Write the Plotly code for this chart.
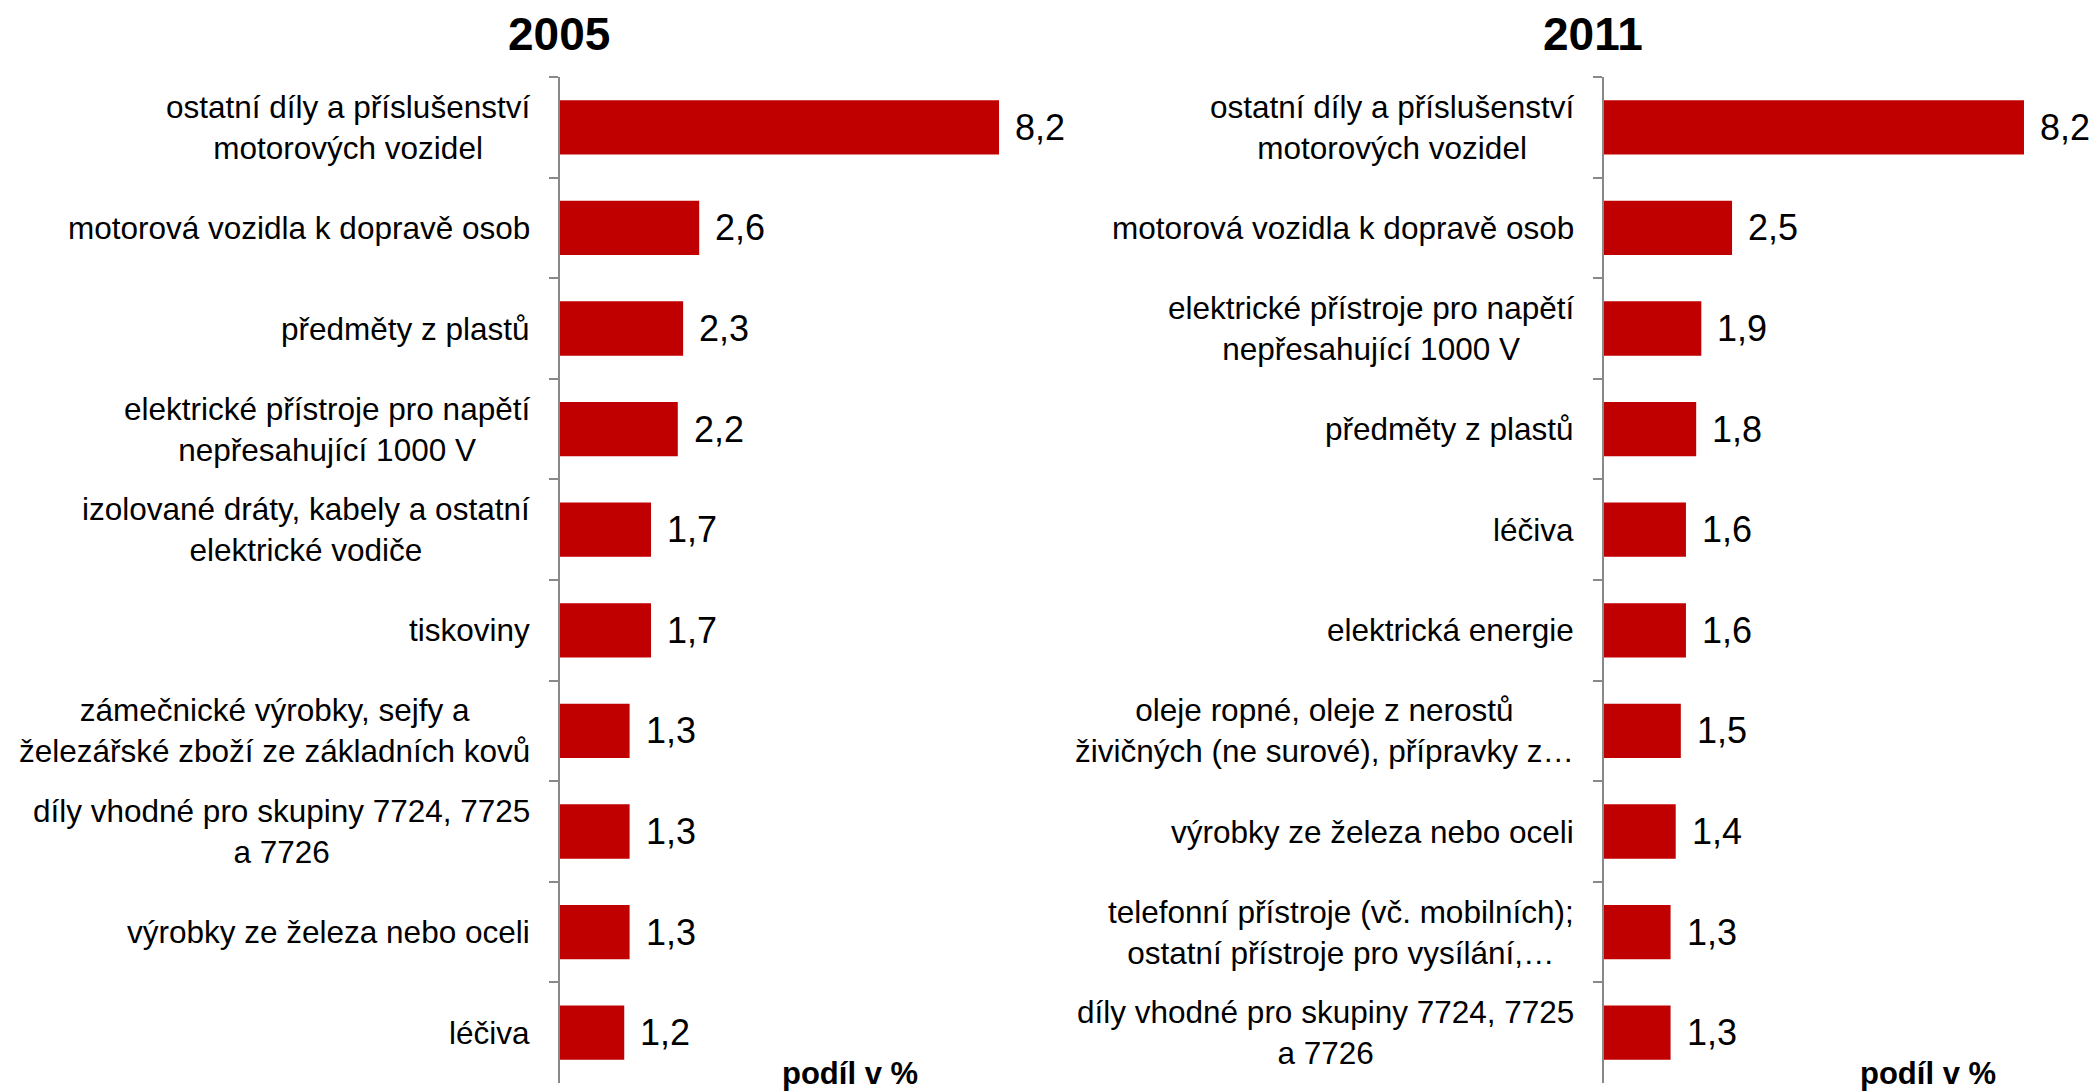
import plotly.graph_objects as go

# data (share in %)
cats_2005 = [
    "ostatní díly a příslušenství<br>motorových vozidel",
    "motorová vozidla k dopravě osob",
    "předměty z plastů",
    "elektrické přístroje pro napětí<br>nepřesahující 1000 V",
    "izolované dráty, kabely a ostatní<br>elektrické vodiče",
    "tiskoviny",
    "zámečnické výrobky, sejfy a<br>železářské zboží ze základních kovů",
    "díly vhodné pro skupiny 7724, 7725<br>a 7726",
    "výrobky ze železa nebo oceli",
    "léčiva",
]
vals_2005 = [8.2, 2.6, 2.3, 2.2, 1.7, 1.7, 1.3, 1.3, 1.3, 1.2]

cats_2011 = [
    "ostatní díly a příslušenství<br>motorových vozidel",
    "motorová vozidla k dopravě osob",
    "elektrické přístroje pro napětí<br>nepřesahující 1000 V",
    "předměty z plastů",
    "léčiva",
    "elektrická energie",
    "oleje ropné, oleje z nerostů<br>živičných (ne surové), přípravky z…",
    "výrobky ze železa nebo oceli",
    "telefonní přístroje (vč. mobilních);<br>ostatní přístroje pro vysílání,…",
    "díly vhodné pro skupiny 7724, 7725<br>a 7726",
]
vals_2011 = [8.2, 2.5, 1.9, 1.8, 1.6, 1.6, 1.5, 1.4, 1.3, 1.3]

titles = ["2005", "2011"]
axis_title = "podíl v %"

W, H = 2096, 1091
FONT = "Liberation Sans, Arial, sans-serif"
RED = "#C00000"
GREY = "#898989"

fig = go.Figure()

panels = [
    (cats_2005, vals_2005, "x", "y"),
    (cats_2011, vals_2011, "x2", "y2"),
]

annotations = []
for cats, vals, xa, ya in panels:
    fig.add_trace(go.Bar(
        x=vals, y=cats, orientation="h", xaxis=xa, yaxis=ya,
        marker=dict(color=RED, line=dict(width=0)), width=0.54,
        hoverinfo="x+y", showlegend=False,
    ))
    for c, v in zip(cats, vals):
        # category label, lines centred like the original
        annotations.append(dict(
            x=0, y=c, xref=xa, yref=ya, text=c, showarrow=False,
            xanchor="right", yanchor="middle", align="center", xshift=-28,
            font=dict(family=FONT, size=31.5, color="black"),
        ))
        # value label
        annotations.append(dict(
            x=v, y=c, xref=xa, yref=ya, text=f"{v:.1f}".replace(".", ","),
            showarrow=False, xanchor="left", yanchor="middle", xshift=14,
            font=dict(family=FONT, size=36, color="black"),
        ))

# panel titles and axis titles
for t, px in zip(titles, [559, 1593]):
    annotations.append(dict(
        x=px / W, y=1 - 34 / H, xref="paper", yref="paper", text=f"<b>{t}</b>",
        showarrow=False, xanchor="center", yanchor="middle",
        font=dict(family=FONT, size=46, color="black"),
    ))
for px in [850, 1928]:
    annotations.append(dict(
        x=px / W, y=1 - 1073 / H, xref="paper", yref="paper",
        text=f"<b>{axis_title}</b>", showarrow=False,
        xanchor="center", yanchor="middle",
        font=dict(family=FONT, size=31, color="black"),
    ))

ydom = [1 - 1083 / H, 1 - 77 / H]
yax = dict(
    domain=ydom, range=[9.5, -0.5], type="category",
    showticklabels=False, showgrid=False, zeroline=False,
    showline=True, linecolor=GREY, linewidth=2,
    ticks="outside", tickson="boundaries", ticklen=9, tickcolor=GREY, tickwidth=2,
)
xax = dict(visible=False, showgrid=False, zeroline=False)

fig.update_layout(
    width=W, height=H,
    margin=dict(l=0, r=0, t=0, b=0),
    paper_bgcolor="white", plot_bgcolor="white",
    bargap=0.46,
    xaxis=dict(xax, domain=[560 / W, (560 + 535.4) / W], range=[0, 10]),
    xaxis2=dict(xax, domain=[1604 / W, 1.0], range=[0, 9.606]),
    yaxis=dict(yax, anchor="x"),
    yaxis2=dict(yax, anchor="x2"),
    annotations=annotations,
    font=dict(family=FONT, color="black"),
)

fig.write_html("out.html", config={"displayModeBar": False},
               post_script="document.body.style.margin='0';")
